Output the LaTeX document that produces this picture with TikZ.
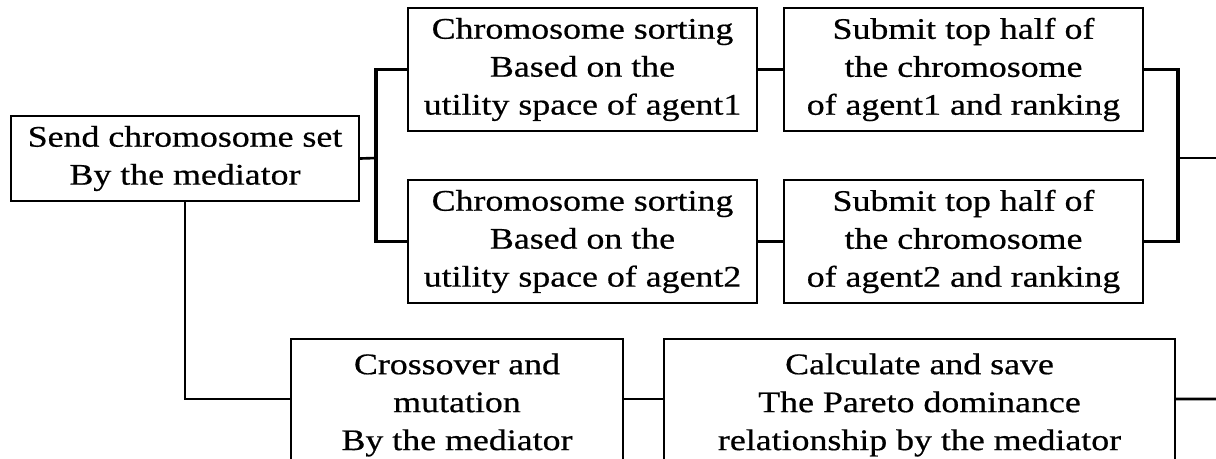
\documentclass[tikz,border=0pt]{standalone}
\usepackage{fontspec}
\setmainfont{Liberation Serif}[FakeStretch=1.2, FakeBold=0.6]
\begin{document}
\begin{tikzpicture}[
  x=0.02cm,
  y=-0.02cm,
  box/.style={draw, line width=1.3pt, align=center, inner sep=0pt,
    font=\fontsize{17}{21.6}\selectfont},
  link/.style={line width=1.5pt},
  bar/.style={line width=2.2pt}
]
  \useasboundingbox (0,0) rectangle (1216,459);
  \clip (0,0) rectangle (1216,459);

  % Mediator
  \node[box, minimum width=6.96cm, minimum height=1.70cm] (send)
    at (185,158.5) {Send chromosome set\\By the mediator};

  % Agents
  \node[box, minimum width=6.98cm, minimum height=2.46cm] (sort1)
    at (582.5,69.5) {Chromosome sorting\\Based on the\\utility space of agent1};
  \node[box, minimum width=6.98cm, minimum height=2.46cm] (sort2)
    at (582.5,241.5) {Chromosome sorting\\Based on the\\utility space of agent2};
  \node[box, minimum width=7.18cm, minimum height=2.46cm] (sub1)
    at (963.5,69.5) {Submit top half of\\the chromosome\\of agent1 and ranking};
  \node[box, minimum width=7.18cm, minimum height=2.46cm] (sub2)
    at (963.5,241.5) {Submit top half of\\the chromosome\\of agent2 and ranking};

  % Mediator again
  \node[box, minimum width=6.64cm, minimum height=2.64cm] (cross)
    at (457,405) {Crossover and\\mutation\\By the mediator};
  \node[box, minimum width=10.22cm, minimum height=2.64cm] (calc)
    at (919.5,405) {Calculate and save\\The Pareto dominance\\relationship by the mediator};

  \coordinate (jl) at (376,158);
  \coordinate (jr) at (1178,158);
  \coordinate (out1) at (1216,158);
  \coordinate (out2) at (1216,399);

  % Connectors
  \draw[link] (send.east) -- (jl);
  \draw[bar] (sort1.west) -| (jl) |- (sort2.west);
  \draw[link] (sort1) -- (sub1);
  \draw[link] (sort2) -- (sub2);
  \draw[bar] (sub1.east) -| (jr) |- (sub2.east);
  \draw[link] (jr) -- (out1);
  \draw[link] (send.south) |- ([yshift=0.12cm]cross.west);
  \draw[link] ([yshift=0.12cm]cross.east) -- ([yshift=0.12cm]calc.west);
  \draw[link] ([yshift=0.12cm]calc.east) -- (out2);
\end{tikzpicture}
\end{document}
